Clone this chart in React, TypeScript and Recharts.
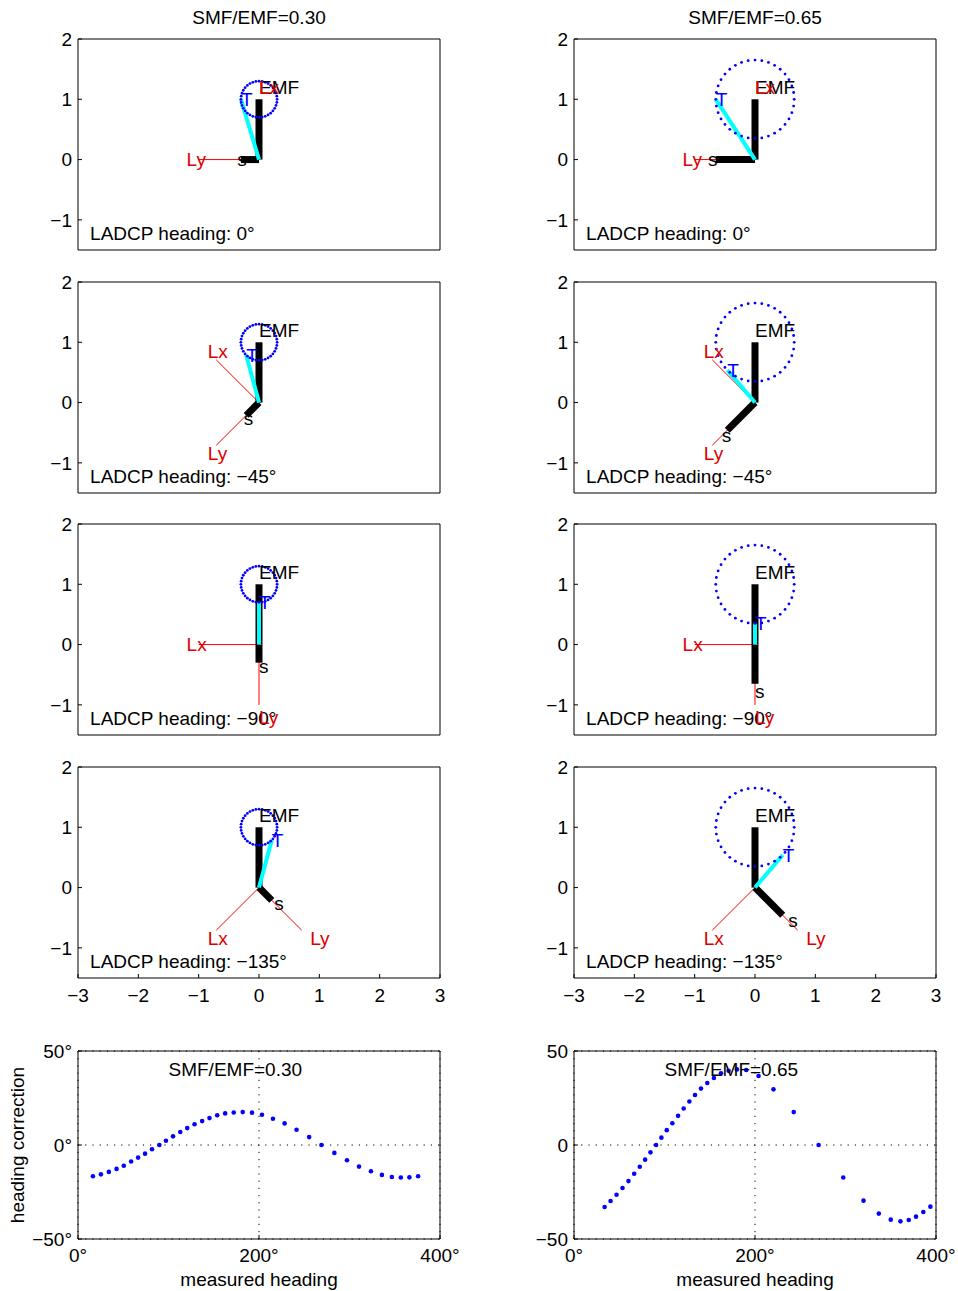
import React from 'react';
import { ComposedChart, Scatter, XAxis, YAxis, CartesianGrid } from 'recharts';

// Field ratios and instrument headings shown in the vector diagrams
const ratios = [0.3, 0.65];
const headings = [0, -45, -90, -135];
const emfLength = 1;

const xTicks = [-3, -2, -1, 0, 1, 2, 3];
const yTicks = [-1, 0, 1, 2];
const headingTicks = [0, 200, 400];
const correctionTicks = [-50, 0, 50];

// Heading correction against measured heading, SMF/EMF = 0.30
const measured030 = [16.5, 25.3, 34.1, 42.6, 50.6, 58.7, 66.4, 74.1, 81.8, 89.9, 97.2, 105.0, 113.0, 120.7, 128.8, 137.2, 145.3, 153.8, 162.6, 172.1, 182.0, 192.3, 203.3, 215.4, 228.3, 241.5, 255.4, 269.0, 283.3, 297.2, 310.5, 323.7, 335.8, 346.8, 356.7, 366.2, 375.8];
const correction030 = [-16.6, -15.6, -14.3, -12.7, -11.0, -8.8, -6.7, -4.6, -2.3, 0, 2.3, 4.6, 6.9, 9.0, 11.0, 12.7, 14.3, 15.8, 16.8, 17.3, 17.5, 17.2, 16.1, 14.0, 11.5, 8.1, 4.2, 0, -4.2, -8.1, -11.5, -14.0, -15.9, -17.0, -17.3, -17.2, -16.6];

// Heading correction against measured heading, SMF/EMF = 0.65
const measured065 = [33.8, 40.4, 47.0, 53.6, 60.2, 66.5, 72.7, 78.6, 84.5, 90.7, 96.6, 102.5, 108.7, 115.0, 121.2, 127.5, 133.7, 140.3, 147.3, 154.6, 162.4, 170.8, 180.0, 190.3, 203.9, 220.4, 242.8, 270.3, 297.5, 319.9, 336.8, 350.0, 360.7, 369.9, 377.9, 386.0, 393.8];
const correction065 = [-33.0, -29.8, -26.5, -22.9, -19.2, -15.3, -11.6, -7.8, -3.9, 0, 3.9, 7.9, 11.6, 15.5, 19.4, 23.1, 26.6, 30.0, 33.0, 35.6, 38.1, 39.5, 40.2, 39.9, 36.7, 29.6, 17.5, 0, -17.3, -29.6, -36.5, -39.7, -40.6, -39.9, -38.1, -35.6, -32.8];

const FONT = '"Liberation Sans", Arial, Helvetica, sans-serif';
const FS = 19;
const RED_LINE = '#ff0000';
const RED_TEXT = '#dd0000';
const BLUE = '#0000ff';
const CYAN = '#00ffff';

const colLeft = [78, 574];
const rowTop = [39, 282, 524, 767];
const PW = 362;
const PH = 211;
const bottomTop = 1051;
const BH = 188;

const minus = (s: string) => s.replace('-', '\u2212');
const tickStyle = { fill: '#000', fontSize: FS, fontFamily: FONT };

const Nothing = () => <g />;

const TextMark = (p: any) => (
  <text
    x={p.cx}
    y={p.cy}
    dy="0.35em"
    textAnchor="start"
    fill={p.payload.color}
    fontSize={FS}
    fontFamily={FONT}
  >
    {p.payload.label}
  </text>
);

const Dot = (r: number) => (p: any) => <circle cx={p.cx} cy={p.cy} r={r} fill={BLUE} />;

type Pt = { x: number; y: number };

function segment(key: string, tip: Pt, stroke: string, width: number) {
  return (
    <Scatter
      key={key}
      data={[{ x: 0, y: 0 }, tip]}
      line={{ stroke, strokeWidth: width }}
      shape={Nothing}
      isAnimationActive={false}
    />
  );
}

function VectorPanel({ col, row, heading, ratio }: { col: number; row: number; heading: number; ratio: number }) {
  const a = (heading * Math.PI) / 180;
  const lx = { x: Math.sin(a), y: Math.cos(a) };
  const ly = { x: -Math.cos(a), y: Math.sin(a) };
  const s = { x: ratio * ly.x, y: ratio * ly.y };
  const t = { x: s.x, y: emfLength + s.y };
  const emf = { x: 0, y: emfLength };

  // dotted circle of radius SMF/EMF around the tip of the EMF vector
  const ring: Pt[] = [];
  for (let k = 0; k < 36; k++) {
    const th = (k * 10 * Math.PI) / 180;
    ring.push({ x: ratio * Math.cos(th), y: emfLength + ratio * Math.sin(th) });
  }

  const headingText = `LADCP heading: ${heading === 0 ? '0' : '\u2212' + Math.abs(heading)}\u00b0`;
  const labels = [
    { x: -2.8, y: -1.23, label: headingText, color: '#000' },
    { x: 1.2 * ly.x, y: 1.2 * ly.y, label: 'Ly', color: RED_TEXT },
    { x: 1.2 * s.x, y: 1.2 * s.y, label: 's', color: '#000' },
    { x: t.x, y: t.y, label: 'T', color: BLUE },
    { x: 0, y: 1.2 * emfLength, label: 'EMF', color: '#000' },
    { x: 1.2 * lx.x, y: 1.2 * lx.y, label: 'Lx', color: RED_TEXT },
  ];

  const showX = row === 3;
  return (
    <div style={{ position: 'absolute', left: colLeft[col] - 50, top: rowTop[row] - 10 }}>
      <ComposedChart width={50 + PW + 20} height={10 + PH + 35} margin={{ top: 9, right: 19, bottom: 0, left: 0 }}>
        <XAxis
          xAxisId={0}
          type="number"
          dataKey="x"
          domain={[-3, 3]}
          ticks={xTicks}
          interval={0}
          height={35}
          tickSize={-4}
          tickMargin={15}
          tick={showX ? tickStyle : false}
          tickFormatter={(v: number) => minus(String(v))}
          axisLine={{ stroke: '#000' }}
          tickLine={{ stroke: '#000' }}
        />
        <XAxis
          xAxisId="t"
          orientation="top"
          type="number"
          domain={[-3, 3]}
          ticks={xTicks}
          interval={0}
          height={1}
          tickSize={-4}
          tick={false}
          axisLine={{ stroke: '#000' }}
          tickLine={{ stroke: '#000' }}
        />
        <YAxis
          yAxisId={0}
          type="number"
          dataKey="y"
          domain={[-1.5, 2]}
          ticks={yTicks}
          interval={0}
          width={50}
          tickSize={-4}
          tickMargin={10}
          tick={tickStyle}
          tickFormatter={(v: number) => minus(String(v))}
          axisLine={{ stroke: '#000' }}
          tickLine={{ stroke: '#000' }}
        />
        <YAxis
          yAxisId="r"
          orientation="right"
          type="number"
          domain={[-1.5, 2]}
          ticks={yTicks}
          interval={0}
          width={1}
          tickSize={-4}
          tick={false}
          axisLine={{ stroke: '#000' }}
          tickLine={{ stroke: '#000' }}
        />
        {segment('lx', lx, RED_LINE, 1)}
        {segment('ly', ly, RED_LINE, 1)}
        {segment('emf', emf, '#000', 7)}
        {segment('s', s, '#000', 7)}
        {segment('t', t, CYAN, 4)}
        <Scatter data={ring} shape={Dot(1.4)} isAnimationActive={false} />
        <Scatter data={labels} shape={TextMark} isAnimationActive={false} />
      </ComposedChart>
    </div>
  );
}

function CorrectionPanel({ col, measured, correction, ratio }: { col: number; measured: number[]; correction: number[]; ratio: number }) {
  const pts = measured.map((m, i) => ({ x: m, y: correction[i] }));
  const deg = col === 0;
  const title = [{ x: 100, y: 40, label: `SMF/EMF=${ratio.toFixed(2)}`, color: '#000' }];
  return (
    <div style={{ position: 'absolute', left: colLeft[col] - 70, top: bottomTop - 10 }}>
      <ComposedChart width={70 + PW + 30} height={10 + BH + 30} margin={{ top: 9, right: 29, bottom: 0, left: 0 }}>
        <CartesianGrid stroke="#000" strokeDasharray="1.2 6" />
        <XAxis
          xAxisId={0}
          type="number"
          dataKey="x"
          domain={[0, 400]}
          ticks={headingTicks}
          interval={0}
          height={30}
          tickSize={-4}
          tickMargin={14}
          tick={tickStyle}
          tickFormatter={(v: number) => `${v}\u00b0`}
          axisLine={{ stroke: '#000' }}
          tickLine={{ stroke: '#000' }}
        />
        <XAxis
          xAxisId="t"
          orientation="top"
          type="number"
          domain={[0, 400]}
          ticks={headingTicks}
          interval={0}
          height={1}
          tickSize={-4}
          tick={false}
          axisLine={{ stroke: '#000' }}
          tickLine={{ stroke: '#000' }}
        />
        <YAxis
          yAxisId={0}
          type="number"
          dataKey="y"
          domain={[-50, 50]}
          ticks={correctionTicks}
          interval={0}
          width={70}
          tickSize={-4}
          tickMargin={10}
          tick={tickStyle}
          tickFormatter={(v: number) => minus(String(v)) + (deg ? '\u00b0' : '')}
          axisLine={{ stroke: '#000' }}
          tickLine={{ stroke: '#000' }}
        />
        <YAxis
          yAxisId="r"
          orientation="right"
          type="number"
          domain={[-50, 50]}
          ticks={correctionTicks}
          interval={0}
          width={1}
          tickSize={-4}
          tick={false}
          axisLine={{ stroke: '#000' }}
          tickLine={{ stroke: '#000' }}
        />
        <Scatter data={pts} shape={Dot(2.3)} isAnimationActive={false} />
        <Scatter data={title} shape={TextMark} isAnimationActive={false} />
      </ComposedChart>
    </div>
  );
}

const Caption = ({ x, y, text, rotate }: { x: number; y: number; text: string; rotate?: boolean }) => (
  <div
    style={{
      position: 'absolute',
      left: x,
      top: y,
      transform: `translate(-50%, -50%)${rotate ? ' rotate(-90deg)' : ''}`,
      fontFamily: FONT,
      fontSize: FS,
      lineHeight: 1,
      whiteSpace: 'nowrap',
      color: '#000',
    }}
  >
    {text}
  </div>
);

export default function App() {
  return (
    <div style={{ position: 'absolute', left: 0, top: 0, width: 958, height: 1291, background: '#fff', overflow: 'hidden' }}>
      {ratios.map((r, c) => (
        <Caption key={'title' + c} x={colLeft[c] + PW / 2} y={16.5} text={`SMF/EMF=${r.toFixed(2)}`} />
      ))}
      {ratios.map((r, c) =>
        headings.map((h, i) => <VectorPanel key={`${c}-${i}`} col={c} row={i} heading={h} ratio={r} />)
      )}
      <CorrectionPanel col={0} measured={measured030} correction={correction030} ratio={ratios[0]} />
      <CorrectionPanel col={1} measured={measured065} correction={correction065} ratio={ratios[1]} />
      <Caption x={17} y={bottomTop + BH / 2} text="heading correction" rotate />
      <Caption x={colLeft[0] + PW / 2} y={1279} text="measured heading" />
      <Caption x={colLeft[1] + PW / 2} y={1279} text="measured heading" />
    </div>
  );
}
